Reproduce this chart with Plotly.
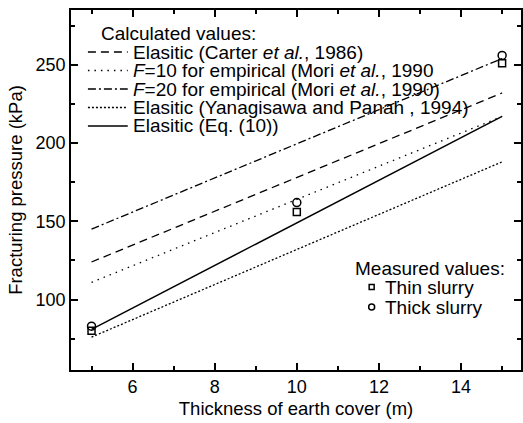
import plotly.graph_objects as go

# ---- data ----
x_line = [5, 15]
carter = [124, 232]
mori_f10 = [111, 217]
mori_f20 = [145, 254]
yanagisawa = [76, 188]
eq10 = [81, 217]

x_meas = [5, 10, 15]
thin_slurry = [80, 156, 251]
thick_slurry = [83, 162, 256]

calc_labels = [
    "Elasitic (Carter <i>et al.</i>, 1986)",
    "<i>F</i>=10 for empirical (Mori <i>et al.</i>, 1990",
    "<i>F</i>=20 for empirical (Mori <i>et al.</i>, 1990)",
    "Elasitic (Yanagisawa and Panah , 1994)",
    "Elasitic (Eq. (10))",
]
meas_labels = ["Thin slurry", "Thick slurry"]

FONT = "Liberation Sans, Arial, sans-serif"
LEG = 19
W, H = 523, 423
ML, MR, MT, MB = 71, 0, 10, 53
PW, PH = W - ML - MR, H - MT - MB

def px(x):
    return (x - ML) / PW

def py(y):
    return (H - MB - y) / PH

series = [
    (carter, "8px,5px", 1.3),
    (mori_f10, "1.5px,5px", 1.3),
    (mori_f20, "8px,3px,2px,3px", 1.3),
    (yanagisawa, "2px,2px", 1.3),
    (eq10, "solid", 1.5),
]

fig = go.Figure()
for (vals, dash, w), name in zip(series, calc_labels):
    fig.add_trace(go.Scatter(x=x_line, y=vals, mode="lines", name=name,
                             line=dict(color="black", width=w, dash=dash),
                             showlegend=False))

fig.add_trace(go.Scatter(x=x_meas, y=thin_slurry, mode="markers", name=meas_labels[0],
                         marker=dict(symbol="square-open", size=7, color="black",
                                     line=dict(width=1.5, color="black")),
                         showlegend=False))
fig.add_trace(go.Scatter(x=x_meas, y=thick_slurry, mode="markers", name=meas_labels[1],
                         marker=dict(symbol="circle-open", size=8, color="black",
                                     line=dict(width=1.5, color="black")),
                         showlegend=False))

annotations = []
shapes = []

# legend for calculated values
annotations.append(dict(text="Calculated values:", x=px(99), y=py(33), xref="paper", yref="paper",
                        xanchor="left", yanchor="middle", showarrow=False,
                        font=dict(size=LEG, color="black", family=FONT)))
row_y = [52, 70.5, 89, 107.5, 126]
for (vals, dash, w), label, ry in zip(series, calc_labels, row_y):
    shapes.append(dict(type="line", xref="paper", yref="paper",
                       x0=px(88), x1=px(128), y0=py(ry), y1=py(ry),
                       line=dict(color="black", width=w, dash=dash)))
    annotations.append(dict(text=label, x=px(131), y=py(ry), xref="paper", yref="paper",
                            xanchor="left", yanchor="middle", showarrow=False,
                            font=dict(size=LEG, color="black", family=FONT)))

# legend for measured values
annotations.append(dict(text="Measured values:", x=px(354), y=py(268), xref="paper", yref="paper",
                        xanchor="left", yanchor="middle", showarrow=False,
                        font=dict(size=LEG, color="black", family=FONT)))
meas_y = [287, 307]
shapes.append(dict(type="rect", xref="paper", yref="paper",
                   x0=px(370.5), x1=px(375.5), y0=py(289.5), y1=py(284.5),
                   line=dict(color="black", width=1.5)))
shapes.append(dict(type="circle", xref="paper", yref="paper",
                   x0=px(370), x1=px(376), y0=py(310), y1=py(304),
                   line=dict(color="black", width=1.5)))
for label, ry in zip(meas_labels, meas_y):
    annotations.append(dict(text=label, x=px(384), y=py(ry), xref="paper", yref="paper",
                            xanchor="left", yanchor="middle", showarrow=False,
                            font=dict(size=LEG, color="black", family=FONT)))

axis_common = dict(showline=True, linecolor="black", linewidth=1.5, mirror="allticks",
                   ticks="inside", ticklen=7, tickwidth=1.5, tickcolor="black",
                   showgrid=False, zeroline=False,
                   tickfont=dict(size=18, color="black", family=FONT))

fig.update_layout(
    width=W, height=H,
    margin=dict(l=ML, r=MR, t=MT, b=MB),
    paper_bgcolor="white", plot_bgcolor="white",
    font=dict(family=FONT, size=18, color="black"),
    xaxis=dict(range=[4.5, 15.46], dtick=2, tick0=0,
               minor=dict(dtick=1, tick0=0, ticks="inside", ticklen=4, tickwidth=1.5, tickcolor="black"),
               title=dict(text="Thickness of earth cover (m)", standoff=6,
                          font=dict(size=18.5, color="black", family=FONT)),
               **axis_common),
    yaxis=dict(range=[55, 285], dtick=50, tick0=0,
               minor=dict(dtick=25, tick0=0, ticks="inside", ticklen=4, tickwidth=1.5, tickcolor="black"),
               title=dict(text="Fracturing pressure (kPa)", standoff=8,
                          font=dict(size=18.5, color="black", family=FONT)),
               **axis_common),
    annotations=annotations,
    shapes=shapes,
    showlegend=False,
)

fig.write_html("out.html")
